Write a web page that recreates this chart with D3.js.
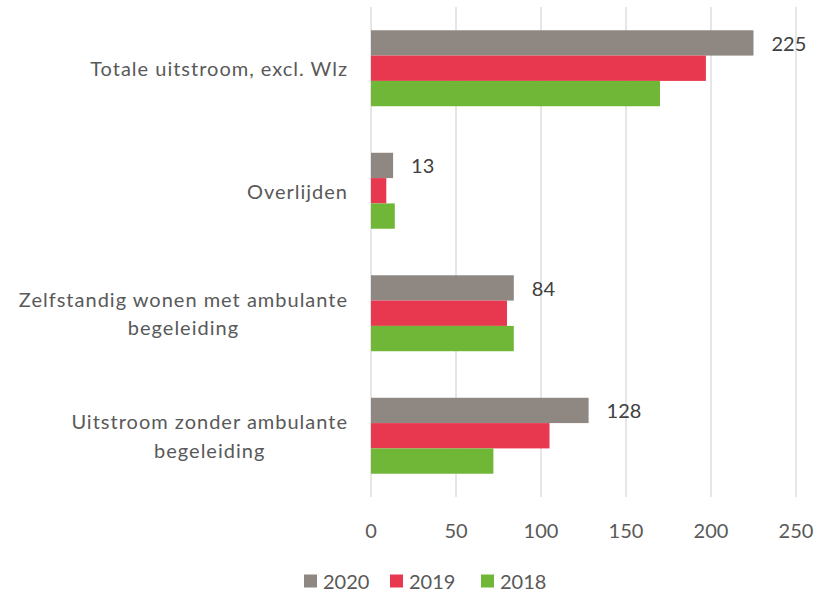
<!DOCTYPE html>
<html>
<head>
<meta charset="utf-8">
<script src="https://cdn.jsdelivr.net/npm/d3@7"></script>
<style>
  body { margin: 0; background: #fff; }
  text { font-family: Lato, "Open Sans", sans-serif; }
</style>
</head>
<body>
<div id="chart"></div>
<script>
// categories top to bottom
const categories = [
  ["Totale uitstroom, excl. Wlz"],
  ["Overlijden"],
  ["Zelfstandig wonen met ambulante", "begeleiding"],
  ["Uitstroom zonder ambulante", "begeleiding"]
];
const years = ["2020", "2019", "2018"];
const values2020 = [225, 13, 84, 128];
const values2019 = [197, 9, 80, 105];
const values2018 = [170, 14, 84, 72];
const ticks = [0, 50, 100, 150, 200, 250];
const colors = { "2020": "#8f8781", "2019": "#e8384f", "2018": "#70b637" };

const series = { "2020": values2020, "2019": values2019, "2018": values2018 };
const w = 817, h = 591;

const svg = d3.select("#chart").append("svg")
    .attr("width", w)
    .attr("height", h);

const x = d3.scaleLinear().domain([0, 250]).range([371, 796]);
const y = d3.scaleBand()
    .domain(d3.range(categories.length))
    .range([7, 497])
    .paddingInner(0.38)
    .paddingOuter(0.19);
const yInner = d3.scaleBand().domain(years).range([0, y.bandwidth()]);

// gridlines
svg.append("g").selectAll("line")
    .data(ticks)
    .join("line")
    .attr("x1", d => x(d)).attr("x2", d => x(d))
    .attr("y1", 7).attr("y2", 497)
    .attr("stroke", "#d9d9d9")
    .attr("stroke-width", 1.3);

// tick labels
svg.append("g").selectAll("text")
    .data(ticks)
    .join("text")
    .attr("x", d => x(d))
    .attr("y", 530)
    .attr("text-anchor", "middle")
    .attr("dominant-baseline", "central")
    .attr("font-size", 20)
    .attr("fill", "#595959")
    .text(d => d);

// bars
const groups = svg.append("g").selectAll("g")
    .data(categories)
    .join("g")
    .attr("transform", (d, i) => `translate(0,${y(i)})`);

groups.each(function(d, i) {
  const g = d3.select(this);
  g.selectAll("rect")
    .data(years)
    .join("rect")
    .attr("x", x(0))
    .attr("y", yr => yInner(yr))
    .attr("width", yr => x(series[yr][i]) - x(0))
    .attr("height", yInner.bandwidth())
    .attr("fill", yr => colors[yr]);

  // data label for 2020
  g.append("text")
    .attr("x", x(values2020[i]) + 18)
    .attr("y", yInner("2020") + yInner.bandwidth() / 2)
    .attr("dominant-baseline", "central")
    .attr("font-size", 20)
    .attr("fill", "#404040")
    .text(values2020[i]);

  // category label, first line right aligned at 347, the rest centred under it
  const cy = y.bandwidth() / 2;
  const lab = g.append("text")
    .attr("text-anchor", "middle")
    .attr("font-size", 20)
    .attr("letter-spacing", 1)
    .attr("fill", "#595959");
  const spans = lab.selectAll("tspan")
    .data(d)
    .join("tspan")
    .attr("y", (l, j) => cy + (j - (d.length - 1) / 2) * 28.5)
    .attr("dominant-baseline", "central")
    .text(l => l);
  const wFirst = spans.node().getComputedTextLength();
  spans.attr("x", 348 - wFirst / 2);
});

// legend
const legX = [304, 390, 481];
years.forEach((yr, i) => {
  const g = svg.append("g").attr("transform", `translate(${legX[i]},581)`);
  g.append("rect").attr("x", 0).attr("y", -6.5).attr("width", 13).attr("height", 13)
    .attr("fill", colors[yr]);
  g.append("text").attr("x", 19).attr("y", 7.5)
    .attr("font-size", 20)
    .attr("fill", "#595959")
    .text(yr);
});
</script>
</body>
</html>
